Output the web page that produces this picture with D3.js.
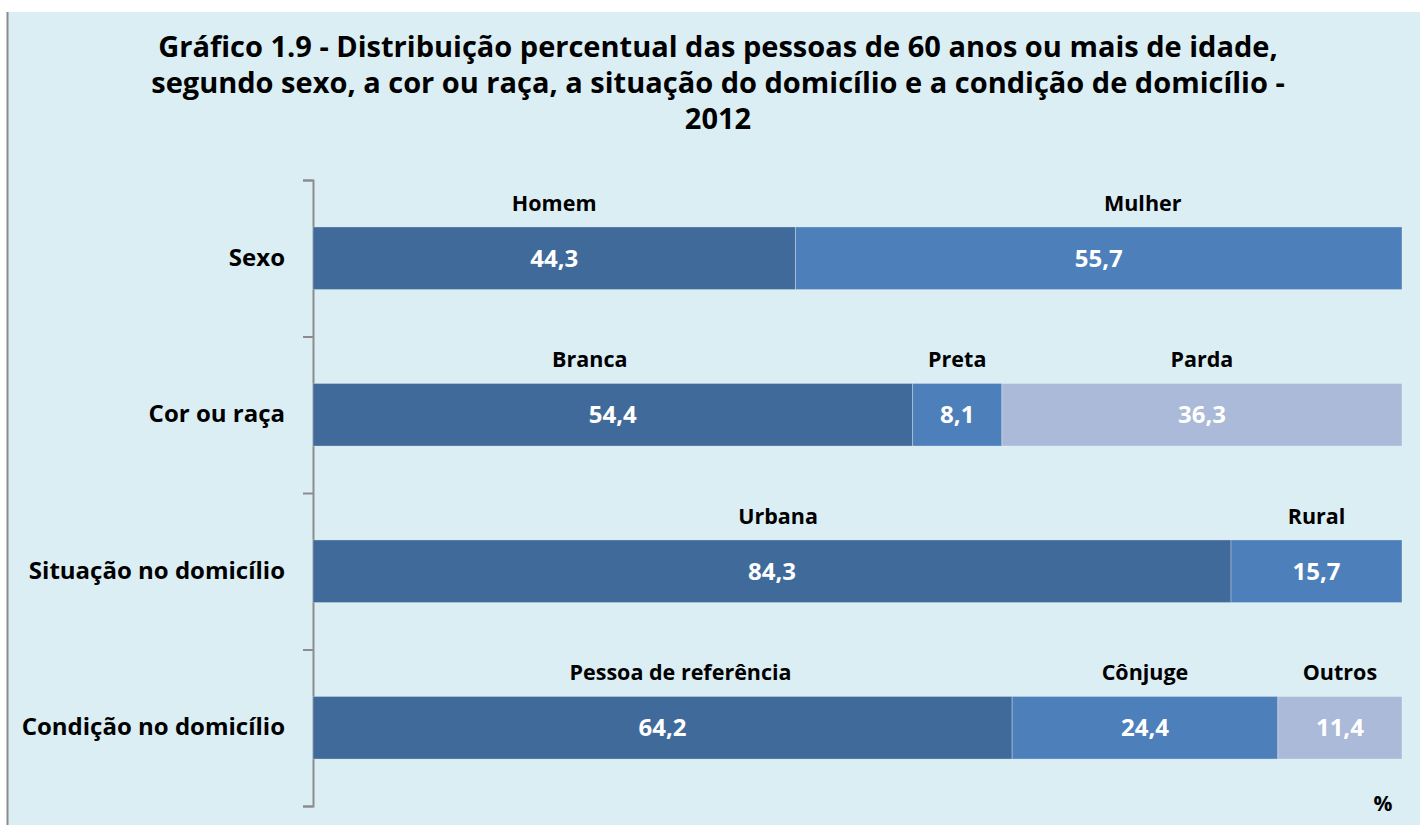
<!doctype html>
<html lang="pt">
<head>
    <meta charset="UTF-8">
    <title>Gráfico 1.9</title>
    <script src="https://d3js.org/d3.v7.min.js"></script>
    <style>
        body { margin: 0; background: #fff; }
        text { font-family: "Open Sans", Lato, sans-serif; font-weight: bold; }
    </style>
</head>
<body>
    <script>
        var categories = ["Sexo", "Cor ou raça", "Situação no domicílio", "Condição no domicílio"],
            segmentNames = [
                ["Homem", "Mulher"],
                ["Branca", "Preta", "Parda"],
                ["Urbana", "Rural"],
                ["Pessoa de referência", "Cônjuge", "Outros"]
            ],
            segmentValues = [
                [44.3, 55.7],
                [54.4, 8.1, 36.3],
                [84.3, 15.7],
                [64.2, 24.4, 11.4]
            ],
            titleLines = [
                "Gráfico 1.9 - Distribuição percentual das pessoas de 60 anos ou mais de idade,",
                "segundo sexo, a cor ou raça, a situação do domicílio e a condição de domicílio -",
                "2012"
            ];

        var width = 1420,
            height = 825,
            colors = ["#3f6a9a", "#4d7fbb", "#aabad8"],
            // hand placed name labels in the original, shifted from the segment centre
            nameNudge = { "Mulher": 44, "Branca": -23, "Pessoa de referência": 18, "Urbana": 6 };

        var svg = d3.select("body").append("svg")
                    .attr("width", width)
                    .attr("height", height);

        svg.append("rect")
            .attr("x", 7).attr("y", 12)
            .attr("width", width - 7).attr("height", height - 12)
            .attr("fill", "#dbeef4");

        svg.append("line")
            .attr("x1", 7.5).attr("x2", 7.5)
            .attr("y1", 12).attr("y2", height)
            .attr("stroke", "#8c8c8c").attr("stroke-width", 2);

        svg.append("g").selectAll("text")
            .data(titleLines)
            .enter()
            .append("text")
            .attr("x", 718)
            .attr("y", function(d, i){ return 57 + i * 36; })
            .attr("text-anchor", "middle")
            .attr("font-size", 29)
            .attr("fill", "#000")
            .text(function(d){ return d; });

        var x = d3.scaleLinear().domain([0, 100]).range([313, 1402]);
        var y = d3.scaleBand().domain(categories).range([180, 806])
                  .paddingInner(0.6).paddingOuter(0.3);
        var yb = d3.scaleLinear().domain([0, categories.length]).range([180, 806]);

        // bracket axis with ticks between categories
        var axis = svg.append("g")
            .attr("transform", "translate(313,0)")
            .call(d3.axisLeft(yb).ticks(categories.length).tickSize(10).tickSizeOuter(10).tickFormat(""));
        axis.selectAll("path, line").attr("stroke", "#8c8c8c").attr("stroke-width", 2);

        var labels = svg.append("g")
            .attr("transform", "translate(313,0)")
            .call(d3.axisLeft(y).tickSize(0).tickPadding(28));
        labels.select(".domain").remove();
        labels.selectAll("text")
            .attr("font-family", "'Open Sans', Lato, sans-serif")
            .attr("font-weight", "bold")
            .attr("font-size", 24)
            .attr("fill", "#000");

        // rows of the 100% stacked bars
        var rows = categories.map(function(c, i){
            var total = d3.sum(segmentValues[i]), acc = 0;
            return segmentValues[i].map(function(v, j){
                var s = { cat: c, name: segmentNames[i][j], value: v, j: j,
                          x0: acc / total * 100, x1: (acc + v) / total * 100 };
                acc += v;
                return s;
            });
        });
        var segs = [].concat.apply([], rows);

        svg.append("g").selectAll("rect")
            .data(segs)
            .enter()
            .append("rect")
            .attr("x", function(d){ return x(d.x0); })
            .attr("y", function(d){ return y(d.cat); })
            .attr("width", function(d){ return x(d.x1) - x(d.x0); })
            .attr("height", y.bandwidth())
            .attr("fill", function(d){ return colors[d.j]; })
            .attr("stroke", "rgba(255,255,255,0.3)")
            .attr("stroke-width", 1);

        svg.append("g").selectAll("text")
            .data(segs)
            .enter()
            .append("text")
            .attr("x", function(d){ return (x(d.x0) + x(d.x1)) / 2; })
            .attr("y", function(d){ return y(d.cat) + y.bandwidth() / 2; })
            .attr("dy", "0.36em")
            .attr("text-anchor", "middle")
            .attr("font-size", 24)
            .attr("fill", "#fff")
            .text(function(d){ return d3.format(".1f")(d.value).replace(".", ","); });

        svg.append("g").selectAll("text")
            .data(segs)
            .enter()
            .append("text")
            .attr("x", function(d){ return (x(d.x0) + x(d.x1)) / 2 + (nameNudge[d.name] || 0); })
            .attr("y", function(d){ return y(d.cat) - 16; })
            .attr("text-anchor", "middle")
            .attr("font-size", 21.5)
            .attr("fill", "#000")
            .text(function(d){ return d.name; });

        svg.append("text")
            .attr("x", 1383)
            .attr("y", 811)
            .attr("text-anchor", "middle")
            .attr("font-size", 21)
            .attr("fill", "#000")
            .text("%");
    </script>
</body>
</html>
